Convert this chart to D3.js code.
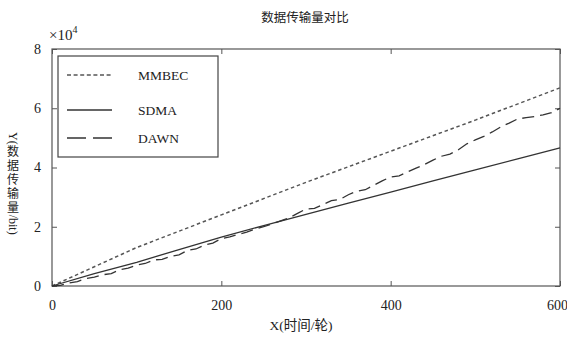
<!DOCTYPE html>
<html><head><meta charset="utf-8">
<script src="https://cdn.jsdelivr.net/npm/d3@7"></script>
<style>body{margin:0;background:#fff}svg{display:block}</style>
</head><body>
<svg id="c" width="567" height="343"></svg>
<script>
const title = "数据传输量对比";
const xLabel = "X(时间/轮)";
const yLabelHead = "Y(";
const yLabelCJK = ["数", "据", "传", "输", "量"];
const yLabelTail = "/bit)";
const xTicks = [0, 200, 400, 600];
const yTicks = [0, 2, 4, 6, 8];
const seriesNames = ["MMBEC", "SDMA", "DAWN"];
const mmbecX = [0, 50, 100, 200, 300, 400, 500, 600];
const mmbecY = [0, 0.65, 1.3, 2.4, 3.5, 4.55, 5.6, 6.69];
const sdmaX = [0, 50, 100, 150, 200, 250, 300, 350, 400, 450, 500, 550, 600];
const sdmaY = [0, 0.42, 0.8, 1.23, 1.65, 2.04, 2.42, 2.8, 3.17, 3.55, 3.92, 4.29, 4.66];
const dawnX = [0,10,20,30,40,50,60,70,80,90,100,110,120,130,140,150,160,170,180,190,200,210,220,230,240,250,260,270,280,290,300,310,320,330,340,350,360,370,380,390,400,410,420,430,440,450,460,470,480,490,500,510,520,530,540,550,560,570,580,590,600];
const dawnY = [0,0.02,0.1,0.15,0.25,0.3,0.38,0.42,0.55,0.6,0.71,0.76,0.88,0.9,1.0,1.05,1.2,1.25,1.38,1.45,1.6,1.66,1.74,1.82,1.92,2.0,2.1,2.2,2.3,2.45,2.6,2.62,2.75,2.88,2.92,3.08,3.2,3.25,3.4,3.55,3.68,3.72,3.85,3.98,4.1,4.25,4.38,4.45,4.6,4.8,4.93,5.05,5.2,5.37,5.5,5.64,5.68,5.72,5.78,5.85,6.0];

const svg = d3.select("#c");
const L = 52, R = 560, T = 49, B = 286;
const x = d3.scaleLinear().domain([0, 600]).range([L, R]);
const y = d3.scaleLinear().domain([0, 8]).range([B, T]);
const serif = "'Liberation Serif', 'Times New Roman', serif";
const cjk = "'Liberation Serif', 'Noto Sans CJK SC', serif";
const txt = "#222";

// title
svg.append("text").attr("x", 305).attr("y", 22).attr("text-anchor", "middle")
  .attr("font-family", cjk).attr("font-size", 12.5).attr("fill", txt).text(title);

// frame
svg.append("rect").attr("x", L).attr("y", T).attr("width", R - L).attr("height", B - T)
  .attr("fill", "none").attr("stroke", "#555").attr("stroke-width", 1.2);

// axes with inward ticks
const ax = (g, axis) => { g.call(axis); g.select(".domain").remove();
  g.selectAll("line").attr("stroke", "#555");
  g.selectAll("text").attr("font-family", serif).attr("font-size", 14).attr("fill", txt); };
svg.append("g").attr("transform", `translate(0,${B})`)
  .call(g => ax(g, d3.axisBottom(x).tickValues(xTicks).tickSizeInner(-5).tickPadding(14)))
  .call(g => g.selectAll(".tick text").filter(d => d === 600).attr("dx", -3));
svg.append("g").attr("transform", `translate(0,${T})`)
  .call(g => ax(g, d3.axisTop(x).tickValues(xTicks).tickSizeInner(-5).tickFormat("")));
svg.append("g").attr("transform", `translate(${L},0)`)
  .call(g => ax(g, d3.axisLeft(y).tickValues(yTicks).tickSizeInner(-5).tickPadding(11)));
svg.append("g").attr("transform", `translate(${R},0)`)
  .call(g => ax(g, d3.axisRight(y).tickValues(yTicks).tickSizeInner(-5).tickFormat("")));

// exponent
const ex = svg.append("text").attr("x", 49).attr("y", 40).attr("font-family", serif)
  .attr("font-size", 15).attr("fill", txt);
ex.append("tspan").text("×10");
ex.append("tspan").attr("font-size", 10).attr("dy", -7).text("4");

// x label
svg.append("text").attr("x", 301).attr("y", 330).attr("text-anchor", "middle")
  .attr("font-family", cjk).attr("font-size", 13.5).attr("fill", txt).text(xLabel);

// y label: vertical, CJK upright, Latin rotated
const yl = svg.append("g");
const fs = 12, step = 14, cx = 13;
let cy = 132;
const head = yl.append("text").attr("transform", `translate(${cx},${cy}) rotate(90)`)
  .attr("dominant-baseline", "central").attr("font-family", serif).attr("font-size", fs)
  .attr("fill", txt).text(yLabelHead);
cy += head.node().getComputedTextLength();
const mid = yl.append("text").attr("text-anchor", "middle").attr("font-family", cjk)
  .attr("font-size", fs).attr("fill", txt);
yLabelCJK.forEach((ch, i) => {
  mid.append("tspan").attr("x", cx).attr("y", cy + step * (i + 0.5))
    .attr("dominant-baseline", "central").text(ch);
});
cy += step * yLabelCJK.length;
yl.append("text").attr("transform", `translate(${cx},${cy}) rotate(90)`)
  .attr("dominant-baseline", "central").attr("font-family", serif).attr("font-size", fs)
  .attr("fill", txt).text(yLabelTail);

// lines
const line = d3.line().x(d => x(d[0])).y(d => y(d[1]));
const series = [
  {name: seriesNames[0], data: d3.zip(mmbecX, mmbecY), dash: "3.5,2.8", ldash: "4,2.6", color: "#555", w: 1.5},
  {name: seriesNames[1], data: d3.zip(sdmaX, sdmaY), dash: null, ldash: null, color: "#333", w: 1.3},
  {name: seriesNames[2], data: d3.zip(dawnX, dawnY), dash: "12,6", ldash: "19,7", color: "#333", w: 1.3}
];
series.forEach(s => {
  svg.append("path").attr("d", line(s.data)).attr("fill", "none")
    .attr("stroke", s.color).attr("stroke-width", s.w)
    .attr("stroke-dasharray", s.dash);
});

// legend
svg.append("rect").attr("x", 58).attr("y", 56).attr("width", 160).attr("height", 101)
  .attr("fill", "#fff").attr("stroke", "#444").attr("stroke-width", 1.2);
const ly = [75, 110, 138];
series.forEach((s, i) => {
  svg.append("line").attr("x1", 67).attr("x2", 112).attr("y1", ly[i]).attr("y2", ly[i])
    .attr("stroke", s.color).attr("stroke-width", s.w).attr("stroke-dasharray", s.ldash);
  svg.append("text").attr("x", 138).attr("y", ly[i] + 5).attr("font-family", serif)
    .attr("font-size", 13.5).attr("fill", txt).text(s.name);
});
</script>
</body></html>
